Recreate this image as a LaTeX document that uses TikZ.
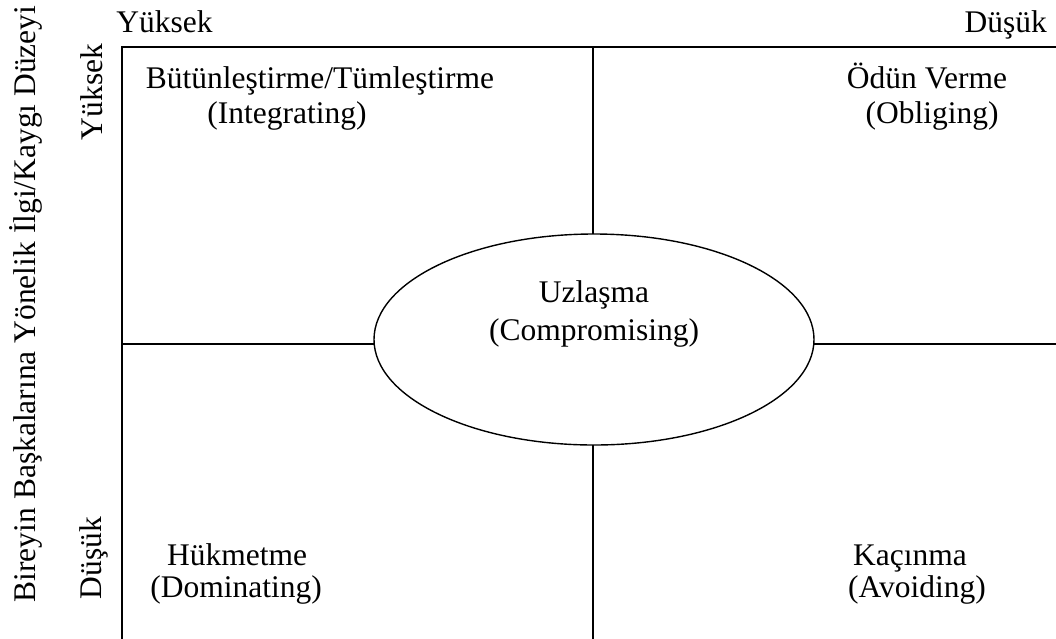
\documentclass[tikz,border=0pt]{standalone}
\usepackage{fontspec}
\setmainfont{Liberation Serif}
\usetikzlibrary{shapes.geometric}
\begin{document}
\begin{tikzpicture}[x=1pt,y=-1pt,
  lbl/.style={anchor=base,inner sep=0pt,font=\fontsize{31.5}{37}\selectfont},
  vlbl/.style={lbl,rotate=90},
  frame/.style={line width=1.4pt,line cap=rect},
  oval/.style={draw,ellipse,line width=1.4pt,minimum width=440pt,minimum height=211pt,inner sep=0pt}]
\useasboundingbox (0,0) rectangle (1056,638);
% frame
\coordinate (tl) at (122,47);
\coordinate (tr) at (1056,47);
\coordinate (bl) at (122,638);
\coordinate (vt) at (593,47);
\coordinate (vb) at (593,638);
\coordinate (hl) at (122,344);
\coordinate (hr) at (1056,344);
\draw[frame] (tr) -- (tl) -- (bl);
\node[oval] (e) at (594,339.5) {};
\draw[frame] (vt) -- (vt |- e.north);
\draw[frame] (vb) -- (vb |- e.south);
\draw[frame] (hl) -- (hl -| e.west);
\draw[frame] (hr) -- (hr -| e.east);
% axis labels
\node[lbl] (ty) at (164.5,32) {Yüksek};
\node[lbl,anchor=base east] (td) at (1047,32) {Düşük};
\node[vlbl] (ly) at (102,92) {Yüksek};
\node[vlbl] (ld) at (101,558) {Düşük};
\node[vlbl] (lt) at (35,304) {Bireyin Başkalarına Yönelik İlgi/Kaygı Düzeyi};
% quadrant labels
\node[lbl] (i1) at (320,88) {Bütünleştirme/Tümleştirme};
\node[lbl] (i2) at (287,123) {(Integrating)};
\node[lbl] (o1) at (927,88) {Ödün Verme};
\node[lbl] (o2) at (932,123) {(Obliging)};
\node[lbl] (c1) at (594,302) {Uzlaşma};
\node[lbl] (c2) at (594,340) {(Compromising)};
\node[lbl] (d1) at (237,565) {Hükmetme};
\node[lbl] (d2) at (236,597) {(Dominating)};
\node[lbl] (a1) at (910,565) {Kaçınma};
\node[lbl] (a2) at (917,597) {(Avoiding)};
\end{tikzpicture}
\end{document}
